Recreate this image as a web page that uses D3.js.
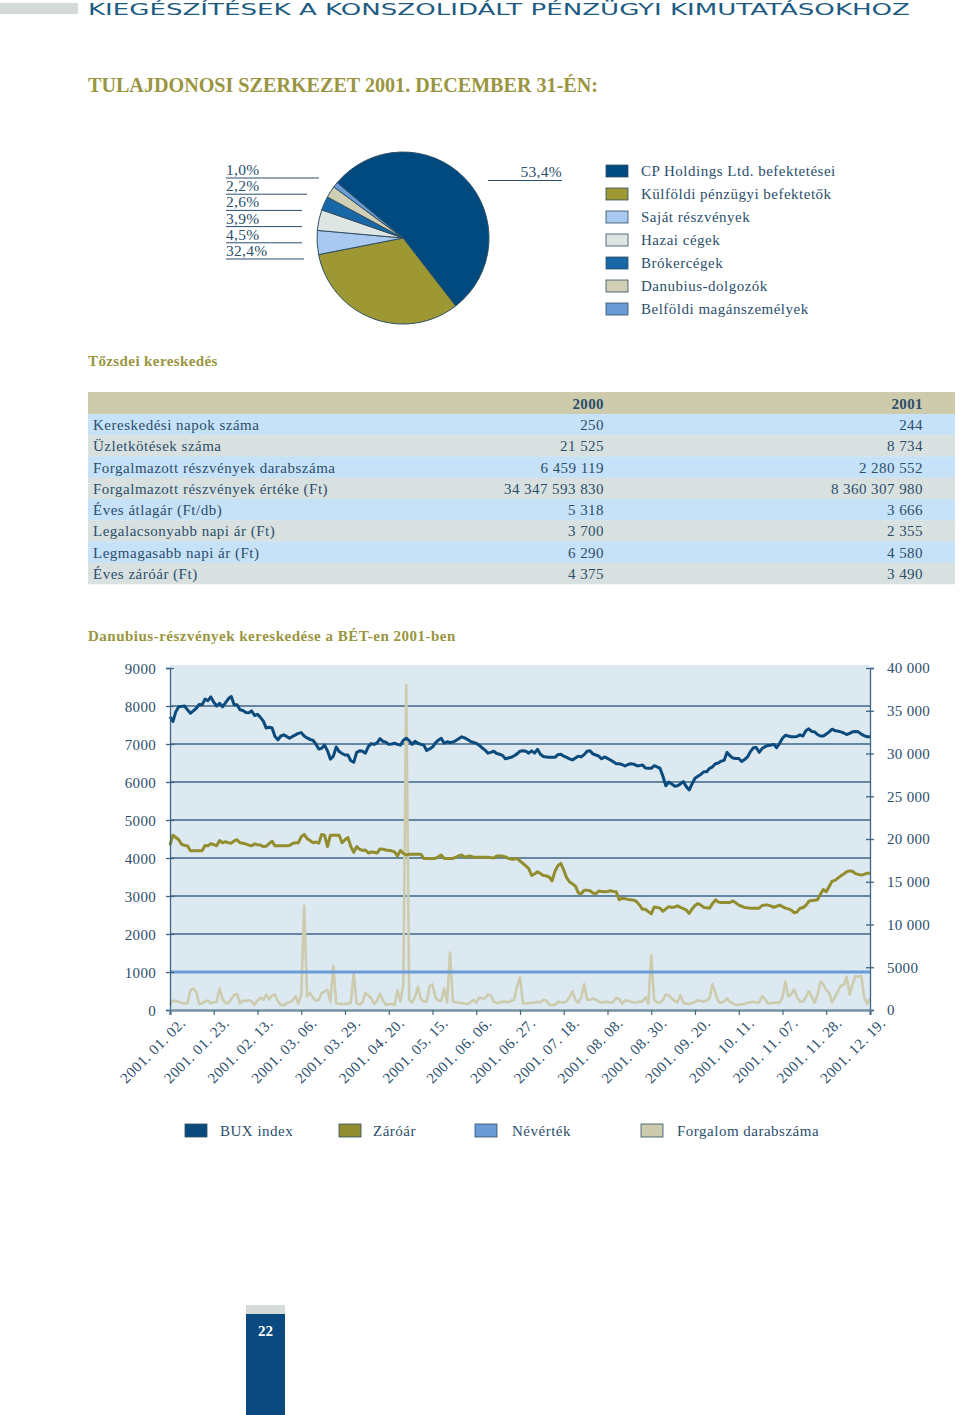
<!DOCTYPE html>
<html><head><meta charset="utf-8">
<script src="https://cdn.jsdelivr.net/npm/d3@7"></script>
<style>
html,body{margin:0;padding:0;background:#fff;}
svg{display:block;}
text{font-family:"Liberation Serif","Times New Roman",serif;}
</style></head><body>
<svg id="page" width="960" height="1415"></svg>
<script>
// ---------- DATA ----------
const headerText = "KIEGÉSZÍTÉSEK A KONSZOLIDÁLT PÉNZÜGYI KIMUTATÁSOKHOZ";
const pieTitle = "TULAJDONOSI SZERKEZET 2001. DECEMBER 31-ÉN:";
const pieCategories = ["CP Holdings Ltd. befektetései","Külföldi pénzügyi befektetők","Saját részvények","Hazai cégek","Brókercégek","Danubius-dolgozók","Belföldi magánszemélyek"];
const pieValues = [53.4, 32.4, 4.5, 3.9, 2.6, 2.2, 1.0];
const pieColors = ["#004a80","#9d9734","#a9c9f0","#dfe5e2","#1868a8","#d1cfb3","#6b9bd6"];

const tableTitle = "Tőzsdei kereskedés";
const tableYears = ["2000","2001"];
const tableRows = ["Kereskedési napok száma","Üzletkötések száma","Forgalmazott részvények darabszáma","Forgalmazott részvények értéke (Ft)","Éves átlagár (Ft/db)","Legalacsonyabb napi ár (Ft)","Legmagasabb napi ár (Ft)","Éves záróár (Ft)"];
const values2000 = [250, 21525, 6459119, 34347593830, 5318, 3700, 6290, 4375];
const values2001 = [244, 8734, 2280552, 8360307980, 3666, 2355, 4580, 3490];

const chartTitle = "Danubius-részvények kereskedése a BÉT-en 2001-ben";
const seriesNames = ["BUX index","Záróár","Névérték","Forgalom darabszáma"];
const seriesColors = ["#0b4a7c","#928d2e","#6b9bd6","#cdcbae"];
const dateLabels = ["2001. 01. 02.","2001. 01. 23.","2001. 02. 13.","2001. 03. 06.","2001. 03. 29.","2001. 04. 20.","2001. 05. 15.","2001. 06. 06.","2001. 06. 27.","2001. 07. 18.","2001. 08. 08.","2001. 08. 30.","2001. 09. 20.","2001. 10. 11.","2001. 11. 07.","2001. 11. 28.","2001. 12. 19."];
const leftTicks = [0,1000,2000,3000,4000,5000,6000,7000,8000,9000];
const rightTicks = [0,5000,10000,15000,20000,25000,30000,35000,40000];
const nevertek = 1000;
const bux = [
7720,7590,7850,7980,7990,8000,7900,7810,7870,7940,
8040,8030,8180,8140,8240,8100,8000,8070,7980,8080,
8190,8250,8030,8030,7900,7880,7830,7820,7870,7750,
7780,7700,7600,7420,7440,7420,7200,7110,7210,7240,
7200,7150,7200,7240,7280,7300,7210,7160,7120,7100,
7000,6870,6890,6970,6820,6600,6680,6920,6800,6750,
6710,6710,6560,6520,6780,6820,6810,6760,6930,7010,
6990,7030,7140,7070,7050,6990,7000,7020,6990,6970,
7100,7150,7090,6990,7070,7020,6990,6970,6830,6870,
6920,7030,7100,7150,7020,7060,7040,7050,7090,7140,
7190,7160,7120,7070,7040,7020,6970,6900,6840,6760,
6780,6810,6750,6730,6700,6610,6630,6650,6690,6740,
6810,6820,6810,6760,6820,6760,6860,6730,6670,6660,
6650,6650,6650,6720,6730,6680,6650,6610,6580,6630,
6680,6660,6720,6810,6820,6740,6710,6680,6610,6660,
6620,6580,6530,6480,6480,6460,6420,6460,6480,6470,
6430,6430,6450,6370,6360,6360,6430,6400,6360,6150,
5900,6000,5950,5890,5900,5950,6010,5880,5790,5950,
6100,6150,6200,6270,6270,6360,6400,6480,6500,6550,
6570,6780,6690,6630,6620,6620,6540,6590,6660,6800,
6900,6910,6780,6880,6930,6960,6970,6990,6900,7020,
7150,7230,7210,7190,7190,7200,7240,7210,7350,7400,
7330,7320,7250,7210,7210,7260,7320,7390,7350,7340,
7320,7290,7250,7280,7320,7330,7320,7260,7220,7190,
7190];
const zaroar = [
4340,4600,4540,4480,4360,4330,4320,4190,4190,4190,
4190,4190,4330,4320,4380,4350,4320,4460,4400,4430,
4400,4390,4450,4480,4400,4390,4370,4340,4320,4370,
4350,4340,4300,4310,4380,4440,4320,4320,4320,4320,
4320,4330,4380,4400,4400,4560,4620,4510,4460,4400,
4420,4390,4620,4600,4300,4600,4600,4600,4600,4400,
4480,4540,4300,4150,4300,4230,4200,4210,4130,4160,
4150,4130,4240,4230,4210,4200,4190,4160,4050,4200,
4120,4080,4100,4100,4100,4100,4100,3990,3990,3990,
3990,3990,4030,4080,3990,3990,3990,3990,4020,4060,
4080,4020,4040,4050,4020,4020,4020,4020,4020,4020,
4010,4000,4050,4050,4050,4030,3990,3970,3970,3990,
3920,3860,3790,3720,3540,3580,3640,3590,3540,3530,
3500,3400,3650,3800,3860,3680,3480,3370,3320,3260,
3080,3060,3150,3150,3140,3080,3060,3130,3120,3110,
3120,3140,3120,3110,2900,2940,2930,2910,2900,2890,
2850,2760,2650,2650,2590,2530,2710,2700,2680,2600,
2660,2720,2700,2710,2740,2700,2670,2630,2540,2660,
2750,2800,2760,2700,2690,2680,2800,2900,2840,2830,
2830,2830,2830,2870,2820,2760,2730,2700,2690,2680,
2680,2680,2680,2750,2760,2760,2740,2700,2730,2760,
2720,2680,2660,2630,2560,2580,2680,2690,2750,2860,
2880,2890,2900,3050,3170,3110,3250,3390,3410,3470,
3530,3580,3640,3660,3650,3590,3570,3550,3570,3600,
3600];
const forgalom = [
600,1100,1050,950,820,780,780,2300,2500,2100,
700,800,1000,1100,800,900,975,2500,1300,860,
780,1300,1750,1870,780,1100,1050,1150,1000,600,
1100,1450,1170,1800,1250,1700,1800,1000,600,550,
780,900,1100,1600,780,1800,12200,1600,2030,1450,
1100,1200,1950,2200,2340,975,5150,780,740,700,
700,760,860,4290,780,650,900,2030,1700,1400,
700,1100,1900,1100,600,700,700,600,2300,1000,
3000,38000,1200,900,1500,2700,1300,1000,975,2800,
3000,1500,1100,1100,2500,900,6710,975,900,860,
800,750,700,900,1170,860,1450,1350,1370,1800,
1700,975,800,860,950,975,900,1100,1200,2800,
3800,800,780,780,830,880,950,900,1200,1100,
650,585,585,950,900,860,1050,1500,2200,1200,
850,1500,3000,1200,1200,1350,1200,1000,860,920,
960,860,975,1400,1300,750,1100,1100,950,880,
900,975,975,1500,780,6400,1200,860,860,1200,
1800,1700,1370,1050,900,1700,860,760,700,820,
900,1150,1050,975,1100,1400,3000,2000,975,850,
1000,1370,950,750,600,620,680,720,840,900,
975,900,860,1600,1300,780,800,860,860,860,
1500,3310,1600,1850,2400,1500,1000,1000,1500,2200,
1560,850,1800,3300,3000,2340,2000,900,1500,2200,
2850,2925,3900,1800,3000,3950,3900,4000,1500,700,
1370];
const pageNumber = "22";

// ---------- DRAWING ----------
const svg = d3.select("#page");
const ink = "#2b4e6c", olive = "#9a9540", edge = "#2f4f62";
svg.append("rect").attr("width",960).attr("height",1415).attr("fill","#fff");

// header
svg.append("rect").attr("x",0).attr("y",3).attr("width",78).attr("height",11).attr("fill","#d3dad8");
svg.append("text").attr("x",88).attr("y",15).text(headerText)
  .style("font-family","'DejaVu Sans',sans-serif").attr("font-size",15.5).attr("font-weight",400)
  .attr("fill","#1d5b82").attr("textLength",822).attr("lengthAdjust","spacingAndGlyphs");

// title
svg.append("text").attr("x",88).attr("y",92).text(pieTitle)
  .attr("font-size",20).attr("font-weight","bold").attr("fill",olive)
  .attr("textLength",510).attr("lengthAdjust","spacingAndGlyphs");

// pie
const fmtPct = v => d3.format(".1f")(v).replace(".", ",") + "%";
const cx = 403, cy = 238, R = 86;
const pie = d3.pie().sort(null).value(d => d).startAngle(-50 * Math.PI / 180).endAngle(310 * Math.PI / 180);
const arc = d3.arc().innerRadius(0).outerRadius(R);
const pg = svg.append("g").attr("transform", `translate(${cx},${cy})`);
pg.selectAll("path").data(pie(pieValues)).join("path")
  .attr("d", arc).attr("fill", (d, i) => pieColors[i]).attr("stroke", edge).attr("stroke-width", 1);

// left labels (smallest first)
const leftOrder = [6,5,4,3,2,1];
const leftLineEnd = [319,307,302,302,302,304];
leftOrder.forEach((k, j) => {
  const by = 175 + j * 16.2;
  svg.append("text").attr("x",226).attr("y",by).text(fmtPct(pieValues[k]))
    .attr("font-size",15.5).attr("fill",ink).attr("letter-spacing",0.3);
  svg.append("line").attr("x1",226).attr("x2",leftLineEnd[j]).attr("y1",by+3).attr("y2",by+3)
    .attr("stroke",ink).attr("stroke-width",1);
});
svg.append("text").attr("x",562).attr("y",177).attr("text-anchor","end").text(fmtPct(pieValues[0]))
  .attr("font-size",15.5).attr("fill",ink).attr("letter-spacing",0.3);
svg.append("line").attr("x1",488).attr("x2",562).attr("y1",180.5).attr("y2",180.5).attr("stroke",ink).attr("stroke-width",1);

// pie legend
pieCategories.forEach((c, i) => {
  const y0 = 165 + i * 23;
  svg.append("rect").attr("x",606).attr("y",y0).attr("width",22).attr("height",12)
    .attr("fill",pieColors[i]).attr("stroke",edge).attr("stroke-width",0.8);
  svg.append("text").attr("x",641).attr("y",y0+11).text(c).attr("font-size",15)
    .attr("fill",ink).attr("letter-spacing",0.5);
});

// table
svg.append("text").attr("x",88).attr("y",366).text(tableTitle).attr("font-size",15)
  .attr("font-weight","bold").attr("fill",olive).attr("letter-spacing",0.4);
const fmtSp = v => d3.format(",")(v).replace(/,/g, " ");
const tx0 = 88, tx1 = 955, rowH = 21.25, headTop = 392, headH = 22;
svg.append("rect").attr("x",tx0).attr("y",headTop).attr("width",tx1-tx0).attr("height",headH).attr("fill","#cdcbab");
svg.append("text").attr("x",604).attr("y",headTop+17).attr("text-anchor","end").text(tableYears[0])
  .attr("font-size",15).attr("font-weight","bold").attr("fill",ink).attr("letter-spacing",0.4);
svg.append("text").attr("x",923).attr("y",headTop+17).attr("text-anchor","end").text(tableYears[1])
  .attr("font-size",15).attr("font-weight","bold").attr("fill",ink).attr("letter-spacing",0.4);
tableRows.forEach((r, i) => {
  const y0 = headTop + headH + i * rowH;
  svg.append("rect").attr("x",tx0).attr("y",y0).attr("width",tx1-tx0).attr("height",rowH+0.3)
    .attr("fill", i % 2 === 0 ? "#c6e2f8" : "#d8e1df");
  svg.append("text").attr("x",93).attr("y",y0+16).text(r).attr("font-size",15).attr("fill",ink).attr("letter-spacing",0.5);
  svg.append("text").attr("x",604).attr("y",y0+16).attr("text-anchor","end").text(fmtSp(values2000[i]))
    .attr("font-size",15).attr("fill",ink).attr("letter-spacing",0.45);
  svg.append("text").attr("x",923).attr("y",y0+16).attr("text-anchor","end").text(fmtSp(values2001[i]))
    .attr("font-size",15).attr("fill",ink).attr("letter-spacing",0.45);
});

// chart
svg.append("text").attr("x",88).attr("y",641).text(chartTitle).attr("font-size",15)
  .attr("font-weight","bold").attr("fill",olive).attr("letter-spacing",0.5);

const n = bux.length;
const x = d3.scaleLinear().domain([0, n - 1]).range([170, 870]);
const yL = d3.scaleLinear().domain([0, 9000]).range([1010, 668]);
const yR = d3.scaleLinear().domain([0, 40000]).range([1010, 668]);
const grid = "#3d6585";

svg.append("rect").attr("x",x(0)).attr("y",yL(9000)-3).attr("width",x(n-1)-x(0)).attr("height",yL(0)-yL(9000)+3).attr("fill","#dde9f1");

// gridlines
svg.append("g").selectAll("line").data(leftTicks.filter(v => v > 0 && v < 9000 && v !== nevertek)).join("line")
  .attr("x1",x(0)).attr("x2",x(n-1)).attr("y1",d=>yL(d)).attr("y2",d=>yL(d))
  .attr("stroke",grid).attr("stroke-width",1.3);

const lineL = d3.line().x((d,i)=>x(i)).y(d=>yL(d));
const lineR = d3.line().x((d,i)=>x(i)).y(d=>yR(d));

svg.append("path").datum(forgalom).attr("d",lineR).attr("fill","none").attr("stroke",seriesColors[3]).attr("stroke-width",2.6).attr("stroke-linejoin","round");
svg.append("line").attr("x1",x(0)).attr("x2",x(n-1)).attr("y1",yL(nevertek)).attr("y2",yL(nevertek))
  .attr("stroke",seriesColors[2]).attr("stroke-width",3);
svg.append("path").datum(zaroar).attr("d",lineL).attr("fill","none").attr("stroke",seriesColors[1]).attr("stroke-width",3).attr("stroke-linejoin","round");
svg.append("path").datum(bux).attr("d",lineL).attr("fill","none").attr("stroke",seriesColors[0]).attr("stroke-width",3).attr("stroke-linejoin","round");

// left axis
const gL = svg.append("g").attr("transform",`translate(${x(0)},0)`)
  .call(d3.axisLeft(yL).tickValues(leftTicks).tickSize(4).tickPadding(10).tickFormat(d3.format("d")));
gL.select(".domain").attr("stroke",grid).attr("stroke-width",1.3);
gL.selectAll(".tick line").attr("stroke",grid).attr("x1",4).attr("x2",-4).attr("stroke-width",1.3);
gL.selectAll(".tick text").attr("font-size",15).attr("fill",ink).style("font-family","'Liberation Serif',serif").attr("dy","0.35em").attr("letter-spacing",0.3);

// right axis
const fmtR = v => v >= 10000 ? fmtSp(v) : String(v);
const gR = svg.append("g").attr("transform",`translate(${x(n-1)},0)`)
  .call(d3.axisRight(yR).tickValues(rightTicks).tickSize(4).tickPadding(13).tickFormat(fmtR));
gR.select(".domain").attr("stroke",grid).attr("stroke-width",1.3);
gR.selectAll(".tick line").attr("stroke",grid).attr("x1",-4).attr("x2",4).attr("stroke-width",1.3);
gR.selectAll(".tick text").attr("font-size",15).attr("fill",ink).style("font-family","'Liberation Serif',serif").attr("letter-spacing",0.3);

// bottom axis
const tickIdx = dateLabels.map((d,i)=>i*15);
const gB = svg.append("g").attr("transform",`translate(0,${yL(0)})`)
  .call(d3.axisBottom(x).tickValues(tickIdx).tickSize(5).tickFormat((d,i)=>dateLabels[i]));
gB.select(".domain").attr("stroke","#7592a2").attr("stroke-width",2.5);
gB.selectAll(".tick line").attr("stroke","#4a6a80").attr("stroke-width",1.2);
gB.selectAll(".tick text").attr("font-size",15).attr("fill",ink).style("font-family","'Liberation Serif',serif")
  .attr("text-anchor","end").attr("letter-spacing",0.5)
  .attr("transform","translate(16,14) rotate(-45)").attr("x",0).attr("y",0).attr("dy",0);

// bottom legend
const legX = [185,339,475,641], legTX = [220,373,512,677];
seriesNames.forEach((s,i)=>{
  svg.append("rect").attr("x",legX[i]).attr("y",1124).attr("width",22).attr("height",13)
    .attr("fill",seriesColors[i]).attr("stroke",edge).attr("stroke-width",0.8);
  svg.append("text").attr("x",legTX[i]).attr("y",1136).text(s).attr("font-size",15).attr("fill",ink).attr("letter-spacing",0.5);
});

// page number box
svg.append("rect").attr("x",246).attr("y",1305).attr("width",39).attr("height",10).attr("fill","#d5dbd8");
svg.append("rect").attr("x",246).attr("y",1314).attr("width",39).attr("height",101).attr("fill","#0a4a80");
svg.append("text").attr("x",265.5).attr("y",1336).attr("text-anchor","middle").text(pageNumber)
  .attr("font-size",15).attr("font-weight","bold").attr("fill","#fff");
</script></body></html>
